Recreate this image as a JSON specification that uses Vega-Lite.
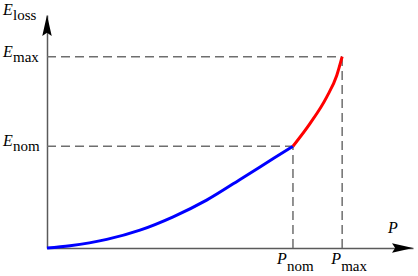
{
  "$schema": "https://vega.github.io/schema/vega-lite/v6.json",
  "width": 366,
  "height": 233,
  "autosize": {"type": "none"},
  "padding": {"left": 47, "top": 15, "right": 5, "bottom": 28},
  "background": "white",
  "config": {"view": {"stroke": null}},
  "datasets": {
    "curve": [
      {"P": 0, "E": 0, "segment": "nominal"},
      {"P": 0.0935, "E": 0.0225, "segment": "nominal"},
      {"P": 0.243, "E": 0.085, "segment": "nominal"},
      {"P": 0.378, "E": 0.176, "segment": "nominal"},
      {"P": 0.513, "E": 0.307, "segment": "nominal"},
      {"P": 0.649, "E": 0.471, "segment": "nominal"},
      {"P": 0.785, "E": 0.674, "segment": "nominal"},
      {"P": 0.92, "E": 0.879, "segment": "nominal"},
      {"P": 1.0, "E": 1.0, "segment": "nominal"},
      {"P": 1.0, "E": 1.0, "segment": "overload"},
      {"P": 1.069, "E": 1.222, "segment": "overload"},
      {"P": 1.137, "E": 1.483, "segment": "overload"},
      {"P": 1.178, "E": 1.696, "segment": "overload"},
      {"P": 1.2, "E": 1.88, "segment": "overload"}
    ],
    "points": [
      {"P": 1.0, "E": 1.0, "P0": 0, "E0": 0, "name": "nom"},
      {"P": 1.2, "E": 1.88, "P0": 0, "E0": 0, "name": "max"}
    ],
    "elabels": [
      {"P": 0, "E": 2.29, "main": "E", "sub": "loss"},
      {"P": 0, "E": 1.88, "main": "E", "sub": "max"},
      {"P": 0, "E": 1.0, "main": "E", "sub": "nom"}
    ],
    "plabels": [
      {"P": 1.0, "E": 0, "main": "P", "sub": "nom"},
      {"P": 1.2, "E": 0, "main": "P", "sub": "max"}
    ]
  },
  "layer": [
    {
      "data": {"name": "points"},
      "mark": {"type": "rule", "color": "#6e6e6e", "strokeWidth": 1.5, "strokeDash": [9, 5]},
      "encoding": {
        "x": {"field": "P0", "type": "quantitative", "scale": {"domain": [0, 1.488], "nice": false, "zero": false},
          "axis": {"domain": true, "domainColor": "#5a5a5a", "domainWidth": 1.5, "ticks": false, "labels": false, "grid": false, "title": null}},
        "x2": {"field": "P"},
        "y": {"field": "E", "type": "quantitative", "scale": {"domain": [0, 2.29], "nice": false, "zero": false},
          "axis": {"domain": true, "domainColor": "#5a5a5a", "domainWidth": 1.5, "ticks": false, "labels": false, "grid": false, "title": null}}
      }
    },
    {
      "data": {"name": "points"},
      "mark": {"type": "rule", "color": "#6e6e6e", "strokeWidth": 1.5, "strokeDash": [9, 5]},
      "encoding": {
        "x": {"field": "P", "type": "quantitative"},
        "y": {"field": "E0", "type": "quantitative"},
        "y2": {"field": "E"}
      }
    },
    {
      "data": {"name": "curve"},
      "mark": {"type": "line", "strokeWidth": 3, "interpolate": "monotone"},
      "encoding": {
        "x": {"field": "P", "type": "quantitative"},
        "y": {"field": "E", "type": "quantitative"},
        "color": {"field": "segment", "type": "nominal", "scale": {"domain": ["nominal", "overload"], "range": ["#0000ff", "#ff0000"]}, "legend": null}
      }
    },
    {
      "data": {"values": [{"P": 0, "E": 2.29}]},
      "mark": {"type": "point", "filled": true, "color": "black", "opacity": 1, "size": 441, "shape": "M0,0L0.45,2L0,1.7L-0.45,2Z"},
      "encoding": {
        "x": {"field": "P", "type": "quantitative"},
        "y": {"field": "E", "type": "quantitative"}
      }
    },
    {
      "data": {"values": [{"P": 1.488, "E": 0}]},
      "mark": {"type": "point", "filled": true, "color": "black", "opacity": 1, "size": 441, "shape": "M0,0L-2,-0.45L-1.7,0L-2,0.45Z"},
      "encoding": {
        "x": {"field": "P", "type": "quantitative"},
        "y": {"field": "E", "type": "quantitative"}
      }
    },
    {
      "data": {"name": "elabels"},
      "mark": {"type": "text", "font": "Liberation Serif", "fontSize": 16, "fontStyle": "italic", "align": "left", "baseline": "alphabetic", "dx": -44, "dy": 0, "color": "black"},
      "encoding": {
        "x": {"field": "P", "type": "quantitative"},
        "y": {"field": "E", "type": "quantitative"},
        "text": {"field": "main", "type": "nominal"}
      }
    },
    {
      "data": {"name": "elabels"},
      "mark": {"type": "text", "font": "Liberation Serif", "fontSize": 15, "align": "left", "baseline": "alphabetic", "dx": -34, "dy": 5, "color": "black"},
      "encoding": {
        "x": {"field": "P", "type": "quantitative"},
        "y": {"field": "E", "type": "quantitative"},
        "text": {"field": "sub", "type": "nominal"}
      }
    },
    {
      "data": {"name": "plabels"},
      "transform": [{"filter": "datum.sub === 'nom'"}],
      "mark": {"type": "text", "font": "Liberation Serif", "fontSize": 16, "fontStyle": "italic", "align": "left", "baseline": "alphabetic", "dx": -16, "dy": 16, "color": "black"},
      "encoding": {
        "x": {"field": "P", "type": "quantitative"},
        "y": {"field": "E", "type": "quantitative"},
        "text": {"field": "main", "type": "nominal"}
      }
    },
    {
      "data": {"name": "plabels"},
      "transform": [{"filter": "datum.sub === 'nom'"}],
      "mark": {"type": "text", "font": "Liberation Serif", "fontSize": 15, "align": "left", "baseline": "alphabetic", "dx": -6, "dy": 23, "color": "black"},
      "encoding": {
        "x": {"field": "P", "type": "quantitative"},
        "y": {"field": "E", "type": "quantitative"},
        "text": {"field": "sub", "type": "nominal"}
      }
    },
    {
      "data": {"name": "plabels"},
      "transform": [{"filter": "datum.sub === 'max'"}],
      "mark": {"type": "text", "font": "Liberation Serif", "fontSize": 16, "fontStyle": "italic", "align": "left", "baseline": "alphabetic", "dx": -11, "dy": 16, "color": "black"},
      "encoding": {
        "x": {"field": "P", "type": "quantitative"},
        "y": {"field": "E", "type": "quantitative"},
        "text": {"field": "main", "type": "nominal"}
      }
    },
    {
      "data": {"name": "plabels"},
      "transform": [{"filter": "datum.sub === 'max'"}],
      "mark": {"type": "text", "font": "Liberation Serif", "fontSize": 15, "align": "left", "baseline": "alphabetic", "dx": -1, "dy": 23, "color": "black"},
      "encoding": {
        "x": {"field": "P", "type": "quantitative"},
        "y": {"field": "E", "type": "quantitative"},
        "text": {"field": "sub", "type": "nominal"}
      }
    },
    {
      "data": {"values": [{"P": 1.488, "E": 0, "name": "P"}]},
      "mark": {"type": "text", "font": "Liberation Serif", "fontSize": 16, "fontStyle": "italic", "align": "left", "baseline": "alphabetic", "dx": -25, "dy": -15, "color": "black"},
      "encoding": {
        "x": {"field": "P", "type": "quantitative"},
        "y": {"field": "E", "type": "quantitative"},
        "text": {"field": "name", "type": "nominal"}
      }
    }
  ]
}
